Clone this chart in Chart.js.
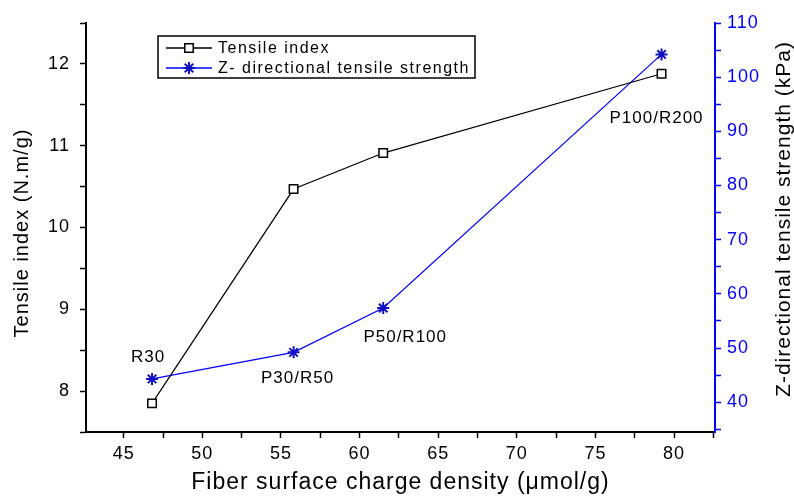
<!DOCTYPE html>
<html>
<head>
<meta charset="utf-8">
<script src="https://cdn.jsdelivr.net/npm/chart.js@4.4.0/dist/chart.umd.min.js"></script>
<style>
  html, body { margin: 0; padding: 0; background: #fff; }
  #wrap { width: 794px; height: 496px; }
</style>
</head>
<body>
<div id="wrap"><canvas id="chart"></canvas></div>
<script>
// data
const chargeDensity = [46.8, 55.8, 61.5, 79.2];
const tensileIndex = [7.85, 10.47, 10.91, 11.88];
const zStrength = [44.3, 49.2, 57.4, 104.2];
const sampleNames = ['R30', 'P30/R50', 'P50/R100', 'P100/R200'];

const xTicks = [45, 47.5, 50, 52.5, 55, 57.5, 60, 62.5, 65, 67.5, 70, 72.5, 75, 77.5, 80, 82.5];
const leftTicks = [7.5, 8, 8.5, 9, 9.5, 10, 10.5, 11, 11.5, 12, 12.5];
const rightTicks = [35, 40, 45, 50, 55, 60, 65, 70, 75, 80, 85, 90, 95, 100, 105, 110];

const FONT = '"Liberation Sans", Arial, sans-serif';
const BLUE = '#0000ff';

const spacingPlugin = {
  id: 'spacing',
  beforeLayout(chart) { chart.ctx.letterSpacing = '1px'; },
  beforeDraw(chart) { chart.ctx.letterSpacing = '1px'; }
};

// both y titles read bottom-to-top, so draw them by hand
const yTitlesPlugin = {
  id: 'yTitles',
  afterDraw(chart) {
    const ctx = chart.ctx;
    const titles = [
      { text: 'Tensile index (N.m/g)', x: 22, y: 233, size: 20 },
      { text: 'Z-directional tensile strength (kPa)', x: 784, y: 219, size: 21 }
    ];
    titles.forEach(t => {
      ctx.save();
      ctx.translate(t.x, t.y);
      ctx.rotate(-Math.PI / 2);
      ctx.font = t.size + 'px ' + FONT;
      ctx.fillStyle = '#000';
      ctx.textAlign = 'center';
      ctx.textBaseline = 'middle';
      ctx.fillText(t.text, 0, 0);
      ctx.restore();
    });
  }
};

// sample names next to the points
const pointLabelPlugin = {
  id: 'pointLabels',
  afterDatasetsDraw(chart) {
    const meta = chart.getDatasetMeta(1);
    const ctx = chart.ctx;
    const offsets = [[-4, -22], [4, 26], [22, 29], [-5, 64]];
    ctx.save();
    ctx.font = '17px ' + FONT;
    ctx.fillStyle = '#000';
    ctx.textAlign = 'center';
    ctx.textBaseline = 'middle';
    sampleNames.forEach((name, i) => {
      const p = meta.data[i];
      ctx.fillText(name, p.x + offsets[i][0], p.y + offsets[i][1]);
    });
    ctx.restore();
  }
};

// boxed legend inside the plot
const boxLegendPlugin = {
  id: 'boxLegend',
  afterDraw(chart) {
    const ctx = chart.ctx;
    ctx.save();
    ctx.strokeStyle = '#000';
    ctx.lineWidth = 1.5;
    ctx.strokeRect(158, 36, 317, 42);
    ctx.font = '16px ' + FONT;
    ctx.letterSpacing = '1.5px';
    ctx.textBaseline = 'middle';
    chart.data.datasets.forEach((ds, i) => {
      const y = 48 + i * 20;
      ctx.strokeStyle = ds.borderColor;
      ctx.lineWidth = 1.5;
      ctx.beginPath();
      ctx.moveTo(166, y);
      ctx.lineTo(212, y);
      ctx.stroke();
      ctx.fillStyle = ds.pointBackgroundColor;
      ctx.strokeStyle = ds.pointBorderColor;
      ctx.lineWidth = ds.pointBorderWidth;
      Chart.helpers.drawPoint(ctx, {
        pointStyle: ds.pointStyle, radius: ds.pointRadius,
        borderWidth: ds.pointBorderWidth, rotation: 0
      }, 189, y);
      ctx.fillStyle = '#000';
      ctx.fillText(ds.label, 218, y + 1);
    });
    ctx.restore();
  }
};

const fixTicks = values => axis => { axis.ticks = values.map(v => ({ value: v })); };

new Chart(document.getElementById('chart'), {
  type: 'scatter',
  data: {
    datasets: [
      {
        label: 'Tensile index',
        data: chargeDensity.map((x, i) => ({ x: x, y: tensileIndex[i] })),
        yAxisID: 'y',
        showLine: true,
        borderColor: '#000',
        borderWidth: 1.2,
        pointStyle: 'rect',
        pointRadius: 6,
        pointBorderWidth: 1.5,
        pointBorderColor: '#000',
        pointBackgroundColor: '#fff'
      },
      {
        label: 'Z- directional tensile strength',
        data: chargeDensity.map((x, i) => ({ x: x, y: zStrength[i] })),
        yAxisID: 'y1',
        showLine: true,
        borderColor: BLUE,
        borderWidth: 1.2,
        pointStyle: 'star',
        pointRadius: 6,
        pointBorderWidth: 2,
        pointBorderColor: '#1010c0',
        pointBackgroundColor: BLUE
      }
    ]
  },
  options: {
    responsive: true,
    maintainAspectRatio: false,
    animation: false,
    events: [],
    layout: { padding: { top: 23, left: 0, right: 0, bottom: 0 } },
    plugins: { legend: { display: false }, tooltip: { enabled: false } },
    scales: {
      x: {
        type: 'linear',
        min: 42.6,
        max: 82.6,
        afterBuildTicks: fixTicks(xTicks),
        afterFit(scale) { scale.height = 64; },
        grid: { drawOnChartArea: false, tickLength: 6, color: '#000', tickWidth: 1.5 },
        border: { color: '#000', width: 2 },
        ticks: {
          color: '#000', padding: 5, font: { family: FONT, size: 18 },
          callback: v => (v % 5 === 0 ? v : '')
        },
        title: {
          display: true, text: 'Fiber surface charge density (μmol/g)', color: '#000',
          font: { family: FONT, size: 23 }, padding: { top: 0, bottom: 0 }
        }
      },
      y: {
        position: 'left',
        min: 7.5,
        max: 12.5,
        afterBuildTicks: fixTicks(leftTicks),
        afterFit(scale) { scale.width = 86; },
        grid: { drawOnChartArea: false, tickLength: 6, color: '#000', tickWidth: 1.5 },
        border: { color: '#000', width: 2 },
        ticks: {
          color: '#000', padding: 10, font: { family: FONT, size: 18 },
          callback: v => (Number.isInteger(v) ? v : '')
        }
      },
      y1: {
        position: 'right',
        min: 34.5,
        max: 110,
        afterBuildTicks: fixTicks(rightTicks),
        afterFit(scale) { scale.width = 79; },
        grid: { drawOnChartArea: false, tickLength: 6, color: BLUE, tickWidth: 1.5 },
        border: { color: BLUE, width: 2 },
        ticks: {
          color: BLUE, padding: 6, font: { family: FONT, size: 18 },
          callback: v => (v % 10 === 0 ? v : '')
        }
      }
    }
  },
  plugins: [spacingPlugin, pointLabelPlugin, yTitlesPlugin, boxLegendPlugin]
});
</script>
</body>
</html>
